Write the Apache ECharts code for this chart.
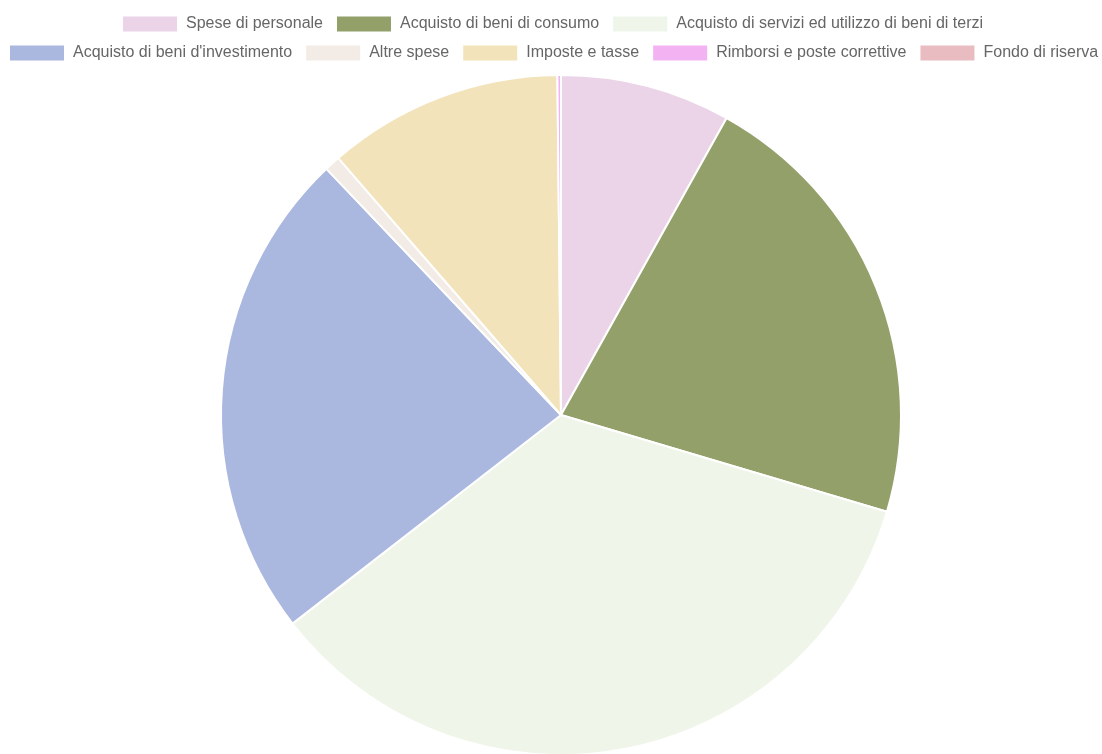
<!DOCTYPE html>
<html>
<head>
<meta charset="utf-8">
<script src="https://cdn.jsdelivr.net/npm/echarts@6/dist/echarts.min.js"></script>
<style>
    html, body { margin: 0; padding: 0; background: #fff; }
    #chart { width: 1102px; height: 754px; }
</style>
</head>
<body>
<div id="chart"></div>
<script>
// voci di spesa (quota percentuale)
const categories = [
    'Spese di personale',
    'Acquisto di beni di consumo',
    'Acquisto di servizi ed utilizzo di beni di terzi',
    "Acquisto di beni d'investimento",
    'Altre spese',
    'Imposte e tasse',
    'Rimborsi e poste correttive',
    'Fondo di riserva'
];
const values = [8.1, 21.5, 34.9, 23.4, 0.75, 11.2, 0.17, 0];
const colors = ['#ebd3e8', '#93a06a', '#eff5e9', '#aab8e0', '#f3ebe5', '#f2e3ba', '#f3b3f3', '#e8bcc1'];

const legendRow1 = categories.slice(0, 3);
const legendRow2 = categories.slice(3);

let chart = echarts.init(document.getElementById('chart'));

const legendBase = {
    orient: 'horizontal',
    padding: 0,
    itemWidth: 54,
    itemHeight: 15,
    itemGap: 14,
    icon: 'rect',
    selectedMode: true,
    itemStyle: { borderWidth: 0 },
    textStyle: {
        color: '#666',
        fontSize: 16,
        fontFamily: 'Liberation Sans, Arial, sans-serif',
        padding: [0, 0, 0, 4]
    }
};

chart.setOption({
    animation: false,
    color: colors,
    legend: [
        Object.assign({}, legendBase, { left: 123, top: 16, data: legendRow1 }),
        Object.assign({}, legendBase, { left: 10, top: 45, data: legendRow2 })
    ],
    series: [{
        type: 'pie',
        center: [561, 415],
        radius: 340,
        startAngle: 90,
        clockwise: true,
        label: { show: false },
        labelLine: { show: false },
        itemStyle: { borderColor: '#fff', borderWidth: 2 },
        emphasis: { scale: false },
        data: categories.map((name, i) => ({ name: name, value: values[i] }))
    }]
});
</script>
</body>
</html>
